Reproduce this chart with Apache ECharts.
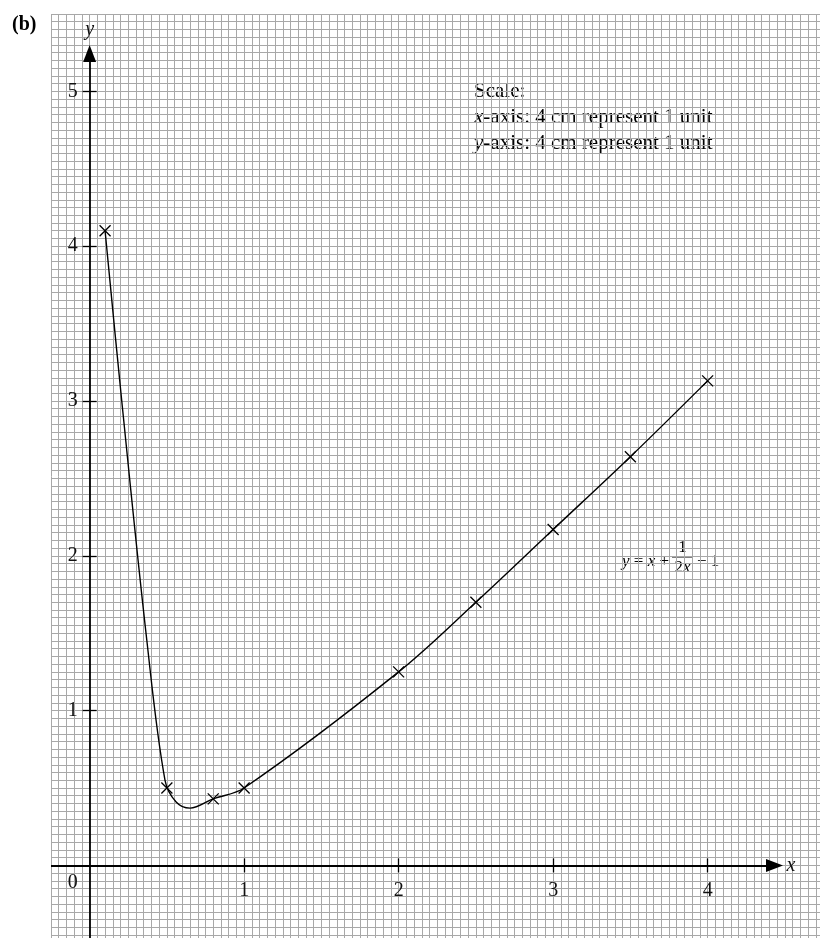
<!DOCTYPE html>
<html><head><meta charset="utf-8">
<script src="https://cdn.jsdelivr.net/npm/echarts@6/dist/echarts.min.js"></script>
<style>html,body{margin:0;padding:0;background:#fff}#c{width:820px;height:938px}</style>
</head><body><div id="c"></div>
<script>
// ---- data ----
// plotted points (crosses)
const xValues = [0.1, 0.5, 0.8, 1, 2, 2.5, 3, 3.5, 4];
const yValues = [4.1, 0.5, 0.43, 0.5, 1.25, 1.7, 2.17, 2.64, 3.13];
// points
const curveX = [0.1, 0.208, 0.37, 0.488, 0.56, 0.65, 0.8, 1, 2, 2.5, 3, 3.5, 4];
const curveY = [4.1, 3.0, 1.456, 0.55, 0.41, 0.37, 0.43, 0.5, 1.25, 1.7, 2.17, 2.64, 3.13];
const xTickValues = [1, 2, 3, 4];
const xLabelValues = [0, 1, 2, 3, 4];
const yTickValues = [1, 2, 3, 4, 5];
const xRange = [-0.25, 4.75];
const yRange = [-0.5, 5.5];
const gridStep = 0.05;
const xAxisEnd = 4.433;
const yAxisEnd = 5.245;
const scaleLines = ['Scale:', '{i|x}-axis: 4 cm represent 1 unit', '{i|y}-axis: 4 cm represent 1 unit'];

const FONT = 'Liberation Serif';
const GRID = {left: 51, top: 14, right: -3.5, bottom: -4.8};
const gridW = 820 - GRID.left - GRID.right;
const gridH = 938 - GRID.top - GRID.bottom;
// shift the tick/label axes from the grid edge onto the zero lines
const xAxisOffset = xRange[0] / (xRange[1] - xRange[0]) * gridW;
const yAxisOffset = yRange[0] / (yRange[1] - yRange[0]) * gridH;

const chart = echarts.init(document.getElementById('c'), null, {renderer: 'canvas'});

function gridAxis(range, pos) {
  return {
    type: 'value', min: range[0], max: range[1], interval: gridStep, position: pos,
    axisLine: {show: false, onZero: false}, axisTick: {show: false}, axisLabel: {show: false},
    splitLine: {show: true, lineStyle: {color: '#a8a8a8', width: 1}}
  };
}
function tickAxis(range, pos, offset, ticks, inside, label) {
  return {
    type: 'value', min: range[0], max: range[1], position: pos, offset: offset,
    axisLine: {show: false, onZero: false},
    axisTick: {show: true, inside: inside, length: 7, customValues: ticks, lineStyle: {color: '#000', width: 1.3}},
    axisLabel: label || {show: false},
    splitLine: {show: false}
  };
}

const curveData = curveX.map((x, i) => [x, curveY[i]]);
const pointData = xValues.map((x, i) => [x, yValues[i]]);

const option = {
  animation: false,
  backgroundColor: '#fff',
  grid: Object.assign({outerBoundsMode: 'none', containLabel: false}, GRID),
  xAxis: [
    gridAxis(xRange, 'bottom'),
    tickAxis(xRange, 'bottom', yAxisOffset, xTickValues, false, {
      show: true, customValues: xLabelValues, margin: 7,
      fontFamily: FONT, fontSize: 20, color: '#111',
      formatter: v => Number(v) === 0 ? '{z|0}' : '{d|' + v + '}',
      rich: {
        z: {fontFamily: FONT, fontSize: 20, color: '#111', padding: [0, 34, 0, 0]},
        d: {fontFamily: FONT, fontSize: 20, color: '#111', padding: [8, 0, 0, 0]}
      }
    }),
    tickAxis(xRange, 'bottom', yAxisOffset, xTickValues, true)
  ],
  yAxis: [
    gridAxis(yRange, 'left'),
    tickAxis(yRange, 'left', xAxisOffset, yTickValues, false, {
      show: true, customValues: yTickValues, margin: 12,
      fontFamily: FONT, fontSize: 20, color: '#111'
    }),
    tickAxis(yRange, 'left', xAxisOffset, yTickValues, true)
  ],
  series: [{
    type: 'line', xAxisIndex: 0, yAxisIndex: 0,
    data: curveData, smooth: 0.35, showSymbol: false, symbol: 'none',
    lineStyle: {color: '#000', width: 1.4},
    itemStyle: {color: '#000'},
    emphasis: {disabled: true},
    z: 5,
    markLine: {
      silent: true, animation: false,
      symbol: ['none', 'triangle'],
      lineStyle: {color: '#000', width: 1.8, type: 'solid'},
      label: {show: true, position: 'end', fontFamily: FONT, fontSize: 20, fontStyle: 'italic', color: '#111'},
      data: [
        [{coord: [xRange[0], 0], symbol: 'none'},
         {coord: [xAxisEnd, 0], symbol: 'triangle', symbolSize: [13, 17], label: {formatter: 'x', distance: 12}}],
        [{coord: [0, yRange[0]], symbol: 'none'},
         {coord: [0, yAxisEnd], symbol: 'triangle', symbolSize: [13, 17], label: {formatter: 'y', distance: 14}}]
      ]
    }
  }, {
    type: 'scatter', xAxisIndex: 0, yAxisIndex: 0,
    data: pointData,
    symbol: 'path://M0,0L10,10M10,0L0,10', symbolSize: 11,
    itemStyle: {color: '#000', borderColor: '#000', borderWidth: 1.3, opacity: 1},
    emphasis: {disabled: true},
    z: 6
  }],
  graphic: [
    {type: 'text', left: 12, top: 15, style: {text: '(b)', font: 'bold 20px "Liberation Serif"', fill: '#000'}},
    {type: 'text', left: 474, top: 78, style: {
      text: scaleLines.join('\n'), font: '21px "Liberation Serif"', lineHeight: 26, fill: '#000',
      rich: {i: {fontStyle: 'italic', fontFamily: FONT, fontSize: 21, lineHeight: 26, fill: '#000'}}
    }},
    {type: 'text', x: 622, y: 562, style: {
      text: '{i|y} = {i|x} +', font: '17px "Liberation Serif"', verticalAlign: 'middle', fill: '#000',
      rich: {i: {fontStyle: 'italic', fontFamily: FONT, fontSize: 17}}
    }},
    {type: 'line', shape: {x1: 672, y1: 557, x2: 693, y2: 557}, style: {stroke: '#000', lineWidth: 1}},
    {type: 'text', x: 682.5, y: 548, style: {text: '1', font: '17px "Liberation Serif"', align: 'center', verticalAlign: 'middle', fill: '#000'}},
    {type: 'text', x: 682.5, y: 568, style: {
      text: '2{i|x}', font: '17px "Liberation Serif"', align: 'center', verticalAlign: 'middle', fill: '#000',
      rich: {i: {fontStyle: 'italic', fontFamily: FONT, fontSize: 17}}
    }},
    {type: 'text', x: 697, y: 562, style: {text: '− 1', font: '17px "Liberation Serif"', verticalAlign: 'middle', fill: '#000'}}
  ]
};
chart.setOption(option);
</script>
</body></html>
